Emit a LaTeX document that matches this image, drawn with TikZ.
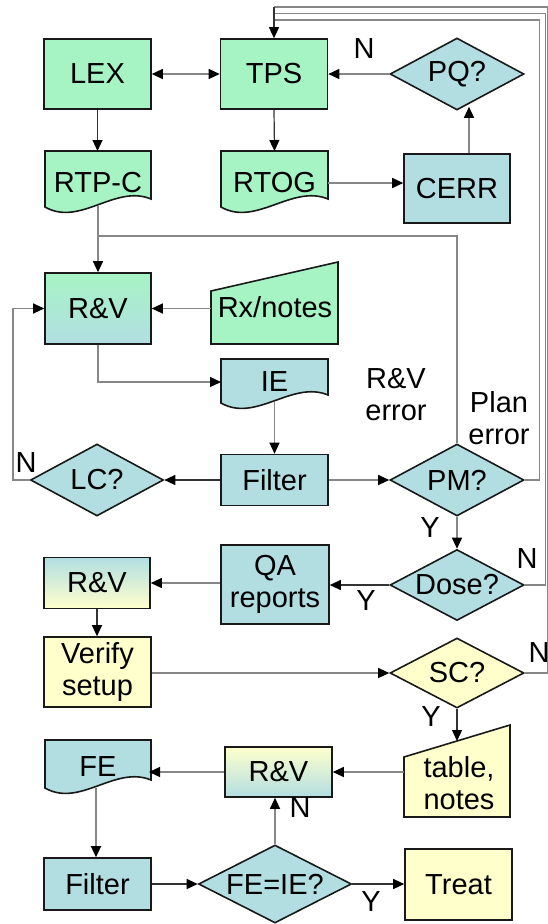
\documentclass[tikz,border=0pt]{standalone}
\usepackage{fontspec}
\setmainfont{Liberation Sans}
\usetikzlibrary{arrows.meta,shapes.geometric,calc}
\definecolor{cgreen}{RGB}{166,244,196}
\definecolor{cblue}{RGB}{178,222,226}
\definecolor{cyellow}{RGB}{255,255,204}
\definecolor{cline}{RGB}{135,135,135}
\newcommand\docshape[5]{\draw[shp,fill=#5] (#1,#3) -- (#2,#3) -- (#2,#4) .. controls (#2-36,#4-15) and (#1+35,#4+28) .. (#1,#4+8) -- cycle;}
\begin{document}
\begin{tikzpicture}[x=1pt,y=-1pt,
  font=\fontsize{29}{32}\selectfont,
  shp/.style={draw=black!90,line width=1.6pt,line join=miter},
  box/.style={shp,minimum width=107,minimum height=70,inner sep=0,align=center},
  frame/.style={inner sep=0,outer sep=0,draw=none},
  diam/.style={diamond,shp,inner sep=0,fill=cblue},
  lbl/.style={inner sep=0,align=center},
  tipk/.tip={Triangle[length=11pt,width=10pt,color=black]},
  conn/.style={draw=cline,line width=1.2pt,-tipk},
  connk/.style={draw=black!80,line width=1.2pt,-tipk},
  lin/.style={draw=cline,line width=1.2pt}]
\useasboundingbox (0,0) rectangle (548,924);

% ---------- row 1
\node[box,fill=cgreen] (lex) at (97.5,74) {LEX};
\node[box,fill=cgreen] (tps) at (274,74) {TPS};
\node[diam,minimum width=134,minimum height=72] (pq) at (457,74) {};
\node[lbl] (pqt) at (457,74) {PQ?};

% ---------- row 2
\docshape{45}{151}{151}{199}{cgreen}
\node[frame,minimum width=106,minimum height=55] (rtpc) at (98,178.5) {};
\node[lbl] (rtpct) at (98,183) {RTP-C};
\docshape{221}{328}{151}{199}{cgreen}
\node[frame,minimum width=107,minimum height=55] (rtog) at (274.5,178.5) {};
\node[lbl] (rtogt) at (274.5,183) {RTOG};
\node[box,fill=cblue,minimum width=106,minimum height=69] (cerr) at (457,188.5) {CERR};

% ---------- row 3
\node[box,top color=cgreen,bottom color=cblue,minimum width=106,minimum height=71] (rv1) at (98,308.5) {R\&V};
\draw[shp,fill=cgreen] (211,291) -- (338,262) -- (338,344) -- (211,344) -- cycle;
\node[frame,minimum width=127,minimum height=82] (rx) at (274.5,303) {};
\node[lbl] (rxt) at (275,307) {Rx/notes};

% ---------- row 4
\docshape{221}{328}{359}{395}{cblue}
\node[frame,minimum width=107,minimum height=43] (ie) at (274.5,380.5) {};
\node[lbl] (iet) at (274.5,382) {IE};
\node[lbl] (rverr) at (396,395) {R\&V\\error};
\node[lbl] (plerr) at (499,418) {Plan\\error};

% ---------- row 5
\node[diam,minimum width=133,minimum height=72] (lc) at (97,480) {};
\node[lbl] (lct) at (97,480) {LC?};
\node[box,fill=cblue,minimum height=51] (flt1) at (274.5,480) {Filter};
\node[diam,minimum width=134,minimum height=72] (pm) at (457,480) {};
\node[lbl] (pmt) at (457,480) {PM?};

% ---------- row 6
\node[diam,minimum width=134,minimum height=71] (dose) at (457,585) {};
\node[lbl] (doset) at (457,585) {Dose?};
\node[box,fill=cblue,minimum width=108,minimum height=79] (qa) at (275,584.5) {QA\\reports};
\node[box,top color=cblue,bottom color=cyellow,minimum width=106,minimum height=51] (rv6) at (97,583) {R\&V};

% ---------- row 7
\node[box,fill=cyellow] (verify) at (97.5,672) {Verify\\setup};
\node[diam,fill=cyellow,minimum width=134,minimum height=70] (sc) at (457,673) {};
\node[lbl] (sct) at (457,673) {SC?};

% ---------- row 8
\draw[shp,fill=cyellow] (404,757) -- (510,725) -- (510,817) -- (404,817) -- cycle;
\node[frame,minimum width=106,minimum height=92] (tab) at (457,771) {};
\node[lbl] (tabt) at (459,783) {table,\\notes};
\coordinate (tabtop) at (457,741);
\node[box,top color=cyellow,bottom color=cblue,minimum width=107,minimum height=50] (rv8) at (278.5,772) {R\&V};
\docshape{45}{151}{740}{780}{cblue}
\node[frame,minimum width=106,minimum height=48] (fe) at (96,764) {};
\node[lbl] (fet) at (98,767) {FE};

% ---------- row 9
\node[box,fill=cblue,minimum height=52] (flt2) at (97.5,884) {Filter};
\node[diam,minimum width=153,minimum height=78] (feie) at (275,884) {};
\node[lbl] (feiet) at (275,884) {FE=IE?};
\node[box,fill=cyellow,minimum height=71] (treat) at (458.5,884.5) {Treat};

% ---------- loop coordinates
\coordinate (t1) at (274,7);
\coordinate (t2) at (274,13.5);
\coordinate (t3) at (274,20);
\coordinate (r1) at (539.5,20);
\coordinate (r2) at (545.5,13.5);
\coordinate (r3) at (547.8,7);
\coordinate (j1) at (98,236);
\coordinate (lcx) at (13,480);

% ---------- connectors
\draw[lin,tipk-tipk] (lex.east) -- (tps.west);
\draw[connk] (lex.south) -- (lex.south |- rtpc.north);
\draw[connk] (tps.south) -- (rtog.north);
\draw[conn] (pq.west) -- (tps.east);
\draw[conn] (rtogt -| rtog.east) -- (rtogt -| cerr.west);
\draw[conn] ($(cerr.north)+(12,0)$) -- ($(pq.south)+(12,-4)$);
\draw[conn] (rtpc.south) -- (rv1.north);
\draw[lin] (pm.north) |- (j1);
\draw[conn] (rx.west |- rv1.east) -- (rv1.east);
\draw[conn] (rv1.south) |- (iet -| ie.west);
\draw[conn] (ie.south) -- (flt1.north);
\draw[connk] (flt1.west) -- (lc.east);
\draw[conn] (flt1.east) -- (pm.west);
\draw[conn] (lc.west) -- (lcx) |- (rv1.west);
\draw[conn] (pm.south) -- (dose.north);
\draw[lin] (pm.east) -| (r1) -- (t3);
\draw[lin] (dose.east) -| (r2) -- (t2);
\draw[lin] (sc.east) -| (r3) -- (t1);
\draw[connk] (t1) -- (tps.north);
\draw[connk] (dose.west) -- (dose.west -| qa.east);
\draw[conn] (rv6.east -| qa.west) -- (rv6.east);
\draw[connk] (rv6.south) -- (rv6.south |- verify.north);
\draw[conn] (sc.west -| verify.east) -- (sc.west);
\draw[connk] (sc.south) -- (tabtop);
\draw[conn] (rv8.east -| tab.west) -- (rv8.east);
\draw[conn] (rv8.west) -- (rv8.west -| fe.east);
\draw[conn] (fe.south) -- (fe.south |- flt2.north);
\draw[connk] (flt2.east) -- (feie.west);
\draw[conn] (feie.north) -- (feie.north |- rv8.south);
\draw[connk] (feie.east) -- (feie.east -| treat.west);

% ---------- labels
\node[lbl] (n1) at (364,49) {N};
\node[lbl] (n2) at (26,463) {N};
\node[lbl] (y1) at (430,528) {Y};
\node[lbl] (n3) at (527,559) {N};
\node[lbl] (y2) at (366,601) {Y};
\node[lbl] (n4) at (539,653) {N};
\node[lbl] (y3) at (431,717) {Y};
\node[lbl] (n5) at (300,808) {N};
\node[lbl] (y4) at (371,902) {Y};
\end{tikzpicture}
\end{document}
